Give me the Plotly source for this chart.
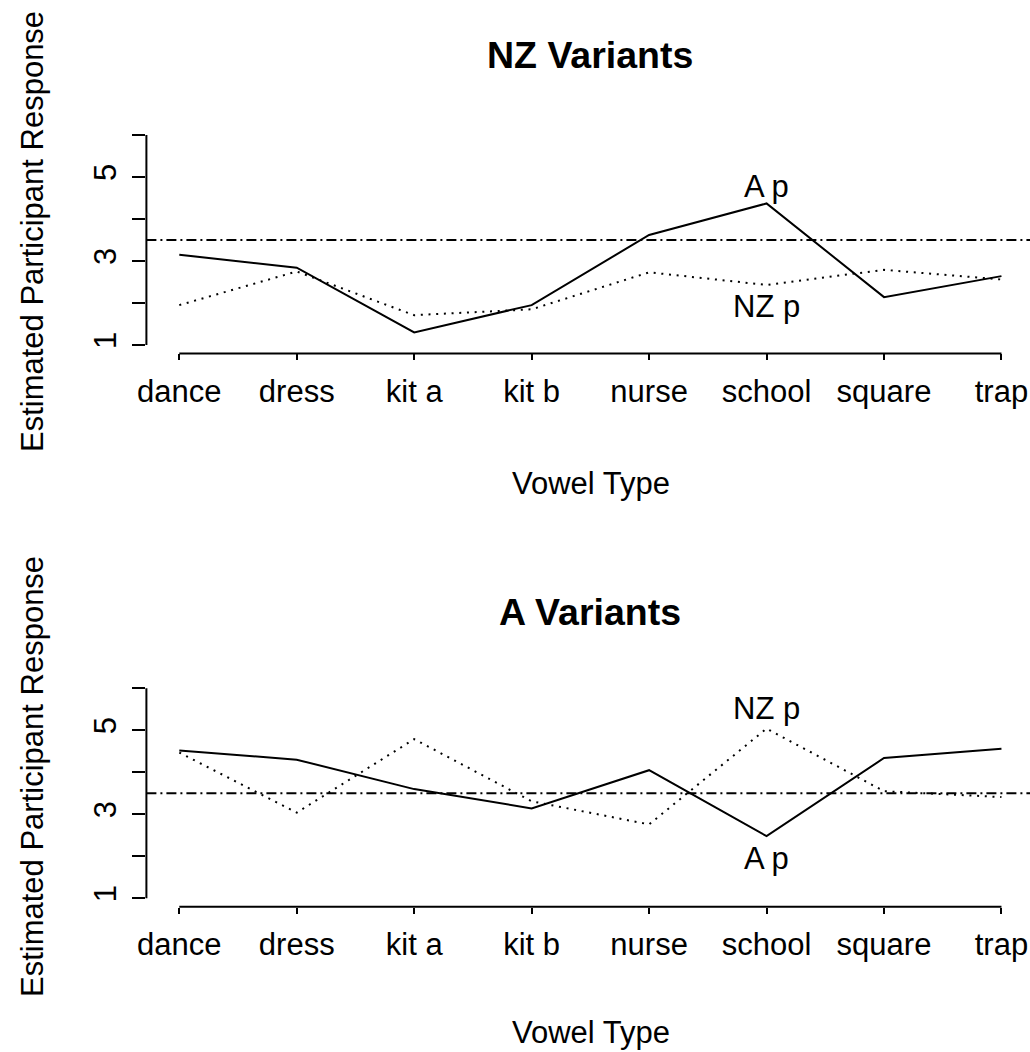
import plotly.graph_objects as go

# ---------------- data ----------------
vowels = ["dance", "dress", "kit a", "kit b", "nurse", "school", "square", "trap"]

nz_panel_A = [3.15, 2.84, 1.30, 1.95, 3.62, 4.37, 2.14, 2.64]   # solid, "A p"
nz_panel_NZ = [1.95, 2.75, 1.71, 1.85, 2.73, 2.43, 2.79, 2.56]  # dotted, "NZ p"

a_panel_A = [4.52, 4.30, 3.60, 3.14, 4.05, 2.48, 4.34, 4.56]    # solid, "A p"
a_panel_NZ = [4.47, 3.04, 4.79, 3.31, 2.76, 5.04, 3.55, 3.41]   # dotted, "NZ p"

reference_level = 3.5
y_ticks = [1, 2, 3, 4, 5, 6]
y_tick_text = ["1", "", "3", "", "5", ""]

panel_titles = ["NZ Variants", "A Variants"]
x_title = "Vowel Type"
y_title = "Estimated Participant Response"

# ---------------- layout helpers ----------------
W, H = 1030, 1052
FONT = "Liberation Sans, Arial, Helvetica, sans-serif"
LBL = 31
TTL = 37.5

def px_x(p):
    return p / W

def px_y(p):
    return 1 - p / H

fig = go.Figure()

panels = [
    dict(A=nz_panel_A, NZ=nz_panel_NZ, title=panel_titles[0], top=126.6, bottom=353.4,
         title_y=55, xlab_y=483, ylab_y=232, Aoff=0.40, NZoff=-0.52),
    dict(A=a_panel_A, NZ=a_panel_NZ, title=panel_titles[1], top=679.9, bottom=906.7,
         title_y=612, xlab_y=1032, ylab_y=777, Aoff=-0.54, NZoff=0.48),
]

annotations = []
shapes = []
xr = [-0.28, 7.243]
dot_dash = "2px,5.7px"
dashdot = "10px,4px,2px,4px"

for i, p in enumerate(panels):
    sfx = "" if i == 0 else str(i + 1)
    xa, ya = "x" + sfx, "y" + sfx
    fig.add_trace(go.Scatter(x=vowels, y=p["A"], mode="lines", xaxis=xa, yaxis=ya,
                             line=dict(color="black", width=2), showlegend=False))
    fig.add_trace(go.Scatter(x=vowels, y=p["NZ"], mode="lines", xaxis=xa, yaxis=ya,
                             line=dict(color="black", width=2, dash=dot_dash), showlegend=False))

    dom_y = [px_y(p["bottom"]), px_y(p["top"])]
    fig.update_layout(**{
        "xaxis" + sfx: dict(domain=[px_x(146.4), 1], range=xr, type="category",
                            categoryorder="array", categoryarray=vowels, automargin=False,
                            anchor=ya, showline=False, showgrid=False, zeroline=False,
                            ticks="outside", ticklen=6, tickwidth=2, tickcolor="black",
                            tickfont=dict(family=FONT, size=LBL, color="black"),
                            ticklabelstandoff=4),
        "yaxis" + sfx: dict(domain=dom_y, range=[0.8, 6.2], anchor=xa, automargin=False,
                            tickvals=y_ticks, ticktext=y_tick_text, tickangle=-90,
                            showline=False, showgrid=False, zeroline=False,
                            ticks="outside", ticklen=13, tickwidth=2, tickcolor="black",
                            tickfont=dict(family=FONT, size=LBL, color="black"),
                            ticklabelstandoff=4),
    })

    # axis lines spanning only tick range (R style)
    shapes.append(dict(type="line", xref=xa + " domain", yref=ya, x0=0, x1=0,
                       y0=min(y_ticks), y1=max(y_ticks), line=dict(color="black", width=2)))
    shapes.append(dict(type="line", xref=xa, yref=ya + " domain", x0=0, x1=len(vowels) - 1,
                       y0=0, y1=0, line=dict(color="black", width=2)))
    # reference line
    shapes.append(dict(type="line", xref=xa + " domain", yref=ya, x0=0, x1=1,
                       y0=reference_level, y1=reference_level,
                       line=dict(color="black", width=2, dash=dashdot)))

    # series labels at "school"
    k = vowels.index("school")
    annotations.append(dict(x=vowels[k], y=p["A"][k] + p["Aoff"], xref=xa, yref=ya, text="A p",
                            showarrow=False, font=dict(family=FONT, size=LBL, color="black"),
                            xanchor="center", yanchor="middle"))
    annotations.append(dict(x=vowels[k], y=p["NZ"][k] + p["NZoff"], xref=xa, yref=ya, text="NZ p",
                            showarrow=False, font=dict(family=FONT, size=LBL, color="black"),
                            xanchor="center", yanchor="middle"))

    # titles
    annotations.append(dict(x=px_x(590), y=px_y(p["title_y"]), xref="paper", yref="paper",
                            text="<b>" + p["title"] + "</b>", showarrow=False,
                            font=dict(family=FONT, size=TTL, color="black"),
                            xanchor="center", yanchor="middle"))
    annotations.append(dict(x=px_x(591), y=px_y(p["xlab_y"]), xref="paper", yref="paper",
                            text=x_title, showarrow=False,
                            font=dict(family=FONT, size=LBL, color="black"),
                            xanchor="center", yanchor="middle"))
    annotations.append(dict(x=px_x(32), y=px_y(p["ylab_y"]), xref="paper", yref="paper",
                            text=y_title, showarrow=False, textangle=-90,
                            font=dict(family=FONT, size=LBL, color="black"),
                            xanchor="center", yanchor="middle"))

fig.update_layout(width=W, height=H, margin=dict(l=0, r=0, t=0, b=0),
                  paper_bgcolor="white", plot_bgcolor="white",
                  annotations=annotations, shapes=shapes,
                  font=dict(family=FONT, color="black"))

fig.write_html("out.html")
